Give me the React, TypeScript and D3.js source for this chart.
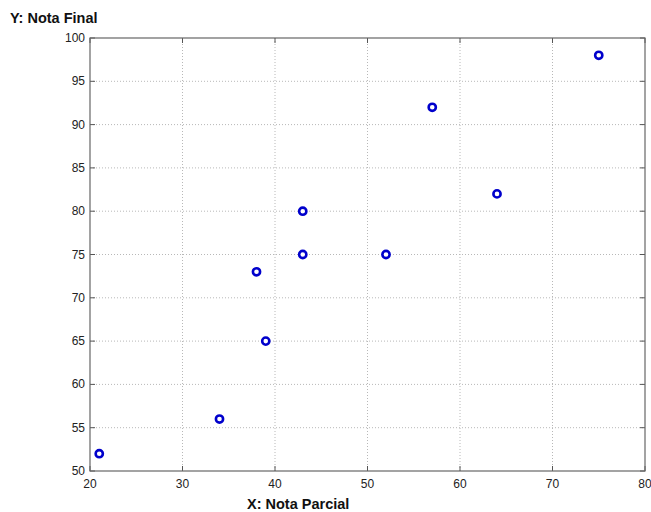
import React from "react";
import * as d3 from "d3";

const xValues = [21, 34, 38, 39, 43, 43, 52, 57, 64, 75];
const yValues = [52, 56, 73, 65, 80, 75, 75, 92, 82, 98];
const xTicks = [20, 30, 40, 50, 60, 70, 80];
const yTicks = [50, 55, 60, 65, 70, 75, 80, 85, 90, 95, 100];

const W = 651, H = 512;
const L = 90, R = 645, T = 38, B = 471;

export default function App() {
  const x = d3.scaleLinear().domain([20, 80]).range([L, R]);
  const y = d3.scaleLinear().domain([50, 100]).range([B, T]);
  const font = "Arial, 'Liberation Sans', sans-serif";
  return (
    <svg width={W} height={H} style={{ position: "absolute", left: 0, top: 0 }}>
      <rect width={W} height={H} fill="#fff" />
      <rect x={L} y={T} width={R - L} height={B - T} fill="#fff" />
      {xTicks.slice(1, -1).map((t) => (
        <line key={"gx" + t} x1={x(t)} x2={x(t)} y1={T} y2={B} stroke="#b8b8b8" strokeWidth={1} strokeDasharray="1,2" />
      ))}
      {yTicks.slice(1, -1).map((t) => (
        <line key={"gy" + t} x1={L} x2={R} y1={y(t)} y2={y(t)} stroke="#b8b8b8" strokeWidth={1} strokeDasharray="1,2" />
      ))}
      {xTicks.map((t) => (
        <g key={"tx" + t}>
          <line x1={x(t)} x2={x(t)} y1={B} y2={B - 5} stroke="#555" />
          <line x1={x(t)} x2={x(t)} y1={T} y2={T + 5} stroke="#555" />
          <text x={x(t)} y={B + 17} textAnchor="middle" fontFamily={font} fontSize={12} fill="#222">{t}</text>
        </g>
      ))}
      {yTicks.map((t) => (
        <g key={"ty" + t}>
          <line x1={L} x2={L + 5} y1={y(t)} y2={y(t)} stroke="#555" />
          <line x1={R} x2={R - 5} y1={y(t)} y2={y(t)} stroke="#555" />
          <text x={L - 5} y={y(t) + 4} textAnchor="end" fontFamily={font} fontSize={12} fill="#222">{t}</text>
        </g>
      ))}
      <rect x={L} y={T} width={R - L} height={B - T} fill="none" stroke="#666" strokeWidth={1.2} />
      {xValues.map((v, i) => (
        <circle key={"p" + i} cx={x(v)} cy={y(yValues[i])} r={3.6} fill="#fff" stroke="#0000cc" strokeWidth={2.6} />
      ))}
      <text x={10} y={23} fontFamily={font} fontSize={14.5} fontWeight="bold" fill="#111">Y: Nota Final</text>
      <text x={247} y={509} fontFamily={font} fontSize={14.5} fontWeight="bold" fill="#111">X: Nota Parcial</text>
    </svg>
  );
}
